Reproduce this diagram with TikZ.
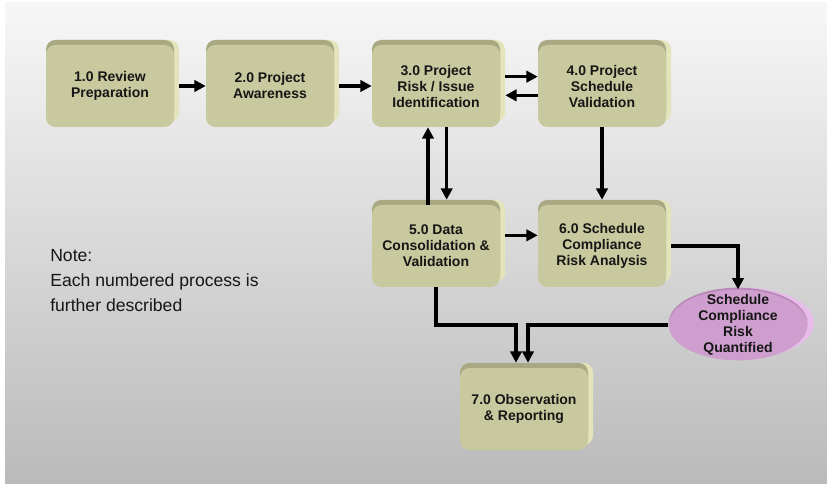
\documentclass[tikz,border=0pt]{standalone}
\usepackage{fontspec}
\setmainfont{Liberation Sans}
\usetikzlibrary{shapes.geometric, arrows.meta, shadows}

\definecolor{stageface}{RGB}{201,201,160}
\definecolor{stagetop}{RGB}{168,168,130}
\definecolor{stageside}{RGB}{228,228,186}
\definecolor{resultface}{RGB}{206,158,206}
\definecolor{resulttop}{RGB}{184,136,184}
\definecolor{resultside}{RGB}{232,188,232}
\definecolor{ink}{RGB}{22,22,22}
\definecolor{bgtop}{RGB}{247,247,247}
\definecolor{bgbottom}{RGB}{186,186,186}

\tikzset{
  stage/.style = {rectangle, rounded corners = 7pt, fill = stageface, minimum width = 96pt, minimum height = 61.5pt, inner sep = 0pt, align = center, text = ink, font = \fontsize{10.5}{12}\selectfont\bfseries, general shadow = {fill = stageside, shadow xshift = 3.75pt, shadow yshift = 3.75pt}, general shadow = {fill = stagetop, shadow yshift = 3.75pt}},
  result/.style = {ellipse, fill = resultface, minimum width = 104pt, minimum height = 53pt, inner sep = 0pt, general shadow = {fill = resultside, shadow xshift = 5pt, shadow yshift = 1.5pt}, general shadow = {fill = resulttop, shadow yshift = 1.5pt}},
  flow/.style = {draw = black, line width = 2.5pt, -{Triangle[length = 8.5pt, width = 8.5pt]}}
}

\begin{document}
\begin{tikzpicture} [x = 0.75pt, y = -0.75pt]
\fill[white] (0, 0) rectangle (827, 484);
\shade[top color = bgtop, bottom color = bgbottom] (5, 3) rectangle (827, 484);
\useasboundingbox (0, 0) rectangle (827, 484);
\node[stage] (review) at (110, 86) {1.0 Review\\Preparation};
\node[stage] (aware) at (270, 86) {2.0 Project\\Awareness};
\node[stage] (risk) at (436, 86) {3.0 Project\\Risk / Issue\\Identification};
\node[stage] (valid) at (602, 86) {4.0 Project\\Schedule\\Validation};
\node[stage] (data) at (436, 246) {5.0 Data\\Consolidation \&\\Validation};
\node[stage] (comply) at (602, 246) {6.0 Schedule\\Compliance\\Risk Analysis};
\node[stage] (report) at (524, 409) {7.0 Observation\\\& Reporting};
\node[result, label = {[align = center, text = ink, font = \fontsize{10.5}{12}\selectfont\bfseries]center:Schedule\\Compliance\\Risk\\Quantified}] (quant) at (738, 325) {};
\node[anchor = north west, inner sep = 0pt, align = left, text = ink, font = \fontsize{13.2}{18.75}\selectfont] (note) at (50, 249) {Note:\\Each numbered process is\\further described};
\draw[flow] ([xshift = 3.75pt]review.east) -- (aware.west);
\draw[flow] ([xshift = 3.75pt]aware.east) -- (risk.west);
\draw[flow] ([xshift = 3.75pt, yshift = 7pt]risk.east) -- ([yshift = 7pt]valid.west);
\draw[flow] ([yshift = -7pt]valid.west) -- ([xshift = 3.75pt, yshift = -7pt]risk.east);
\draw[flow] ([xshift = -6pt]data.north) -- ([xshift = -6pt]risk.south);
\draw[flow] ([xshift = 8pt]risk.south) -- ([xshift = 8pt, yshift = 3.75pt]data.north);
\draw[flow] (valid.south) -- ([yshift = 3.75pt]comply.north);
\draw[flow] ([xshift = 3.75pt, yshift = 8pt]data.east) -- ([yshift = 8pt]comply.west);
\draw[flow] ([xshift = 3.75pt]comply.east) -| (quant.north);
\draw[flow] (data.south) -- (data.south |- quant.west) -| ([xshift = -6pt, yshift = 3.75pt]report.north);
\draw[flow] (quant.west) -| ([xshift = 3pt, yshift = 3.75pt]report.north);
\end{tikzpicture}
\end{document}
